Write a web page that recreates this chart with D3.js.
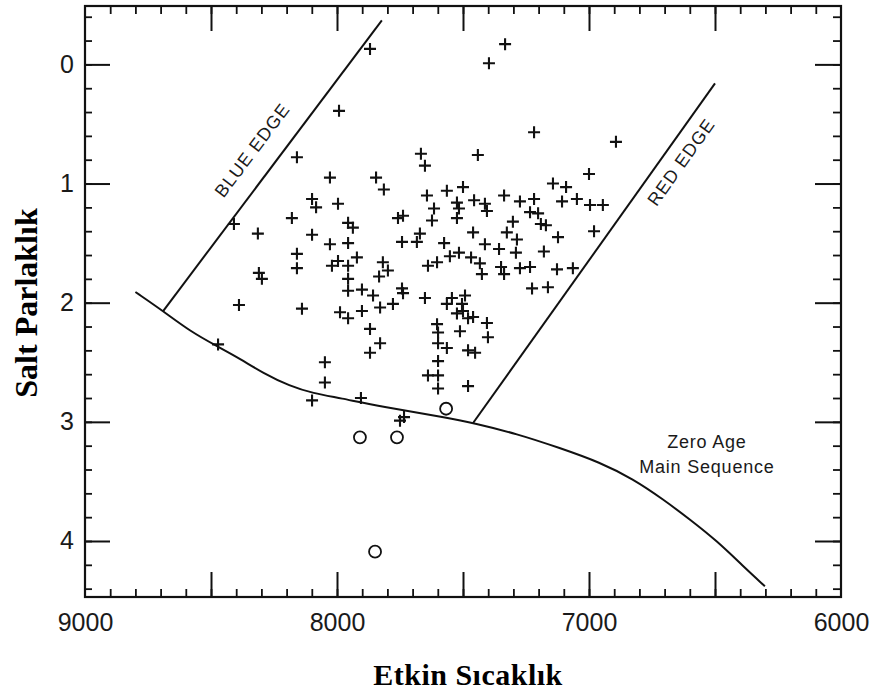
<!DOCTYPE html>
<html lang="tr">
<head>
<meta charset="utf-8">
<title>Salt Parlaklık - Etkin Sıcaklık</title>
<script src="https://d3js.org/d3.v7.min.js"></script>
<style>
  body { margin: 0; background: #fff; }
  .tick text { font-family: "Liberation Sans", Arial, sans-serif; fill: #1a1a1a; }
</style>
</head>
<body>
<script>
var w = 875, h = 693;
var frameLeft = 85, frameRight = 841, frameTop = 6, frameBottom = 597;

// plus-marked stars (Teff, Mv)
var starTemp = [7869,7333,7397,7992,7218,6893,8159,7667,7651,7441,
  7000,8028,7845,7814,7500,7564,7143,7091,7643,8099,
  8083,7996,7524,7456,7413,7337,7274,7218,7107,7048,
  6996,6945,7615,7516,7405,7234,7202,8179,7956,7937,
  7758,7738,7623,7524,7302,7191,7171,8409,8314,8099,
  7460,7326,7671,6980,8028,7956,7742,7683,7575,7413,
  7286,7123,7357,7290,7179,8159,7921,7996,8020,7956,
  7818,7798,7833,8159,8310,8298,7956,7639,7603,7516,
  7468,7433,7425,7349,7337,7274,7234,7127,7064,7226,
  7163,7956,7901,7857,7742,7738,7651,7544,7492,7564,
  7504,8389,8139,7988,7956,7901,7829,7778,7524,7500,
  7480,7460,7405,7603,7599,7512,7401,7869,7829,7599,
  7564,7869,7480,7452,7599,8048,8472,7639,7599,8048,
  7599,7480,8099,7905,7734,7750,7552];
var starMag = [-0.13,-0.17,-0.01,0.39,0.57,0.65,0.78,0.75,0.85,0.76,
  0.92,0.95,0.95,1.05,1.03,1.06,1.00,1.03,1.10,1.13,
  1.20,1.17,1.16,1.14,1.17,1.10,1.15,1.13,1.15,1.13,
  1.18,1.18,1.21,1.21,1.23,1.24,1.25,1.29,1.33,1.37,
  1.29,1.27,1.31,1.29,1.32,1.34,1.35,1.34,1.42,1.43,
  1.41,1.41,1.42,1.40,1.51,1.50,1.49,1.49,1.50,1.51,
  1.47,1.45,1.55,1.58,1.57,1.59,1.62,1.65,1.69,1.69,
  1.66,1.73,1.78,1.71,1.75,1.80,1.80,1.69,1.66,1.58,
  1.62,1.67,1.76,1.70,1.76,1.71,1.70,1.72,1.71,1.88,
  1.87,1.90,1.89,1.94,1.88,1.92,1.96,1.96,1.94,2.01,
  2.01,2.02,2.05,2.08,2.13,2.07,2.04,2.01,2.09,2.07,
  2.13,2.12,2.17,2.18,2.25,2.24,2.29,2.22,2.34,2.34,
  2.38,2.42,2.40,2.42,2.49,2.50,2.35,2.61,2.61,2.67,
  2.72,2.70,2.82,2.80,2.96,2.99,1.61];

// open circles
var openTemp = [7909, 7762, 7567, 7849];
var openMag = [3.13, 3.13, 2.89, 4.09];

// zero age main sequence
var zamsTemp = [8800, 8690, 8583, 8472, 8385, 8294, 8187, 8095, 7988, 7829, 7552, 7460, 7286, 7115, 6956, 6825, 6706, 6599, 6492, 6389, 6302];
var zamsMag = [1.91, 2.07, 2.24, 2.37, 2.47, 2.59, 2.70, 2.76, 2.80, 2.87, 2.97, 3.01, 3.10, 3.22, 3.34, 3.48, 3.65, 3.82, 4.00, 4.21, 4.38];

// instability strip edges
var blueEdgeTemp = [8690, 7822], blueEdgeMag = [2.07, -0.37];
var redEdgeTemp = [7460, 6500], redEdgeMag = [3.01, 0.16];

var xTickLabels = [9000, 8000, 7000, 6000];
var yTickLabels = [0, 1, 2, 3, 4];

var x = d3.scaleLinear().domain([9000, 6000]).range([frameLeft, frameRight]);
var y = d3.scaleLinear().domain([-0.49, 4.47]).range([frameTop, frameBottom]);

var svg = d3.select("body").append("svg")
  .attr("width", w)
  .attr("height", h);

// ticks: minor every 100 K / 0.2 mag, major every 500 K / 1 mag
var xMinor = d3.range(6100, 9000, 100);
var xMajor = d3.range(6500, 9000, 500);
var yMinor = d3.range(-4, 45, 2).map(function(d) { return d / 10; });

function styleAxis(g, width) {
  g.select(".domain").remove();
  g.selectAll(".tick line").attr("stroke", "#111").attr("stroke-width", width);
}

svg.append("g").attr("transform", "translate(0," + frameBottom + ")")
  .call(d3.axisBottom(x).tickValues(xMinor).tickSize(-8).tickFormat(""))
  .call(styleAxis, 1.8);
svg.append("g").attr("transform", "translate(0," + frameBottom + ")")
  .call(d3.axisBottom(x).tickValues(xMajor).tickSize(-25).tickFormat(""))
  .call(styleAxis, 2);
svg.append("g").attr("transform", "translate(0," + frameBottom + ")")
  .call(d3.axisBottom(x).tickValues(xTickLabels).tickSize(0).tickPadding(16).tickFormat(d3.format("d")))
  .call(styleAxis, 0)
  .selectAll("text").style("font-size", "25px");

svg.append("g").attr("transform", "translate(0," + frameTop + ")")
  .call(d3.axisTop(x).tickValues(xMinor).tickSize(-8).tickFormat(""))
  .call(styleAxis, 1.8);
svg.append("g").attr("transform", "translate(0," + frameTop + ")")
  .call(d3.axisTop(x).tickValues(xMajor).tickSize(-25).tickFormat(""))
  .call(styleAxis, 2);

svg.append("g").attr("transform", "translate(" + frameLeft + ",0)")
  .call(d3.axisLeft(y).tickValues(yMinor).tickSize(-7).tickFormat(""))
  .call(styleAxis, 1.8);
svg.append("g").attr("transform", "translate(" + frameLeft + ",0)")
  .call(d3.axisLeft(y).tickValues(yTickLabels).tickSize(-25).tickPadding(11).tickFormat(d3.format("d")))
  .call(styleAxis, 2)
  .selectAll("text").style("font-size", "25px");

svg.append("g").attr("transform", "translate(" + frameRight + ",0)")
  .call(d3.axisRight(y).tickValues(yMinor).tickSize(-8).tickFormat(""))
  .call(styleAxis, 1.8);
svg.append("g").attr("transform", "translate(" + frameRight + ",0)")
  .call(d3.axisRight(y).tickValues(yTickLabels).tickSize(-26).tickFormat(""))
  .call(styleAxis, 2);

// frame
svg.append("rect")
  .attr("x", frameLeft).attr("y", frameTop)
  .attr("width", frameRight - frameLeft).attr("height", frameBottom - frameTop)
  .attr("fill", "none").attr("stroke", "#111").attr("stroke-width", 2.2);

// lines
var line = d3.line()
  .x(function(d) { return x(d[0]); })
  .y(function(d) { return y(d[1]); });

svg.append("path")
  .datum(d3.zip(zamsTemp, zamsMag))
  .attr("d", line.curve(d3.curveBasis))
  .attr("fill", "none").attr("stroke", "#111").attr("stroke-width", 2);

line.curve(d3.curveLinear);
svg.append("path")
  .datum(d3.zip(blueEdgeTemp, blueEdgeMag))
  .attr("d", line)
  .attr("fill", "none").attr("stroke", "#111").attr("stroke-width", 2);
svg.append("path")
  .datum(d3.zip(redEdgeTemp, redEdgeMag))
  .attr("d", line)
  .attr("fill", "none").attr("stroke", "#111").attr("stroke-width", 2);

// edge labels, rotated along the lines
function edgeAngle(t, m) {
  return Math.atan2(y(m[1]) - y(m[0]), x(t[1]) - x(t[0])) * 180 / Math.PI;
}
var labelFont = "Liberation Sans, Arial, sans-serif";
svg.append("text")
  .attr("transform", "translate(" + x(8337) + "," + y(0.72) + ") rotate(" + edgeAngle(blueEdgeTemp, blueEdgeMag) + ")")
  .attr("text-anchor", "middle").attr("dy", "0.35em")
  .style("font-family", labelFont).style("font-size", "18px").style("letter-spacing", "1px")
  .attr("fill", "#1a1a1a")
  .text("BLUE EDGE");
svg.append("text")
  .attr("transform", "translate(" + x(6635) + "," + y(0.82) + ") rotate(" + edgeAngle(redEdgeTemp, redEdgeMag) + ")")
  .attr("text-anchor", "middle").attr("dy", "0.35em")
  .style("font-family", labelFont).style("font-size", "18px").style("letter-spacing", "1px")
  .attr("fill", "#1a1a1a")
  .text("RED EDGE");

svg.append("text")
  .attr("x", x(6532)).attr("y", y(3.22))
  .attr("text-anchor", "middle")
  .style("font-family", labelFont).style("font-size", "18px").style("letter-spacing", "0.8px")
  .attr("fill", "#1a1a1a")
  .text("Zero Age");
svg.append("text")
  .attr("x", x(6532)).attr("y", y(3.43))
  .attr("text-anchor", "middle")
  .style("font-family", labelFont).style("font-size", "18px").style("letter-spacing", "0.8px")
  .attr("fill", "#1a1a1a")
  .text("Main Sequence");

// stars
svg.selectAll(".star")
  .data(d3.zip(starTemp, starMag))
  .enter().append("path")
  .attr("class", "star")
  .attr("transform", function(d) { return "translate(" + x(d[0]) + "," + y(d[1]) + ")"; })
  .attr("d", "M-6,0H6M0,-6V6")
  .attr("stroke", "#111").attr("stroke-width", 2.1).attr("fill", "none");

svg.selectAll(".open")
  .data(d3.zip(openTemp, openMag))
  .enter().append("circle")
  .attr("class", "open")
  .attr("cx", function(d) { return x(d[0]); })
  .attr("cy", function(d) { return y(d[1]); })
  .attr("r", 6)
  .attr("fill", "none").attr("stroke", "#111").attr("stroke-width", 1.8);

// axis titles
svg.append("text")
  .attr("x", (frameLeft + frameRight) / 2 + 5).attr("y", 685)
  .attr("text-anchor", "middle")
  .style("font-family", "Liberation Serif, Times New Roman, serif")
  .style("font-weight", "bold").style("font-size", "30px").style("letter-spacing", "0.5px")
  .text("Etkin Sıcaklık");

svg.append("text")
  .attr("transform", "translate(37," + 303 + ") rotate(-90)")
  .attr("text-anchor", "middle")
  .style("font-family", "Liberation Serif, Times New Roman, serif")
  .style("font-weight", "bold").style("font-size", "32px")
  .text("Salt Parlaklık");
</script>
</body>
</html>
